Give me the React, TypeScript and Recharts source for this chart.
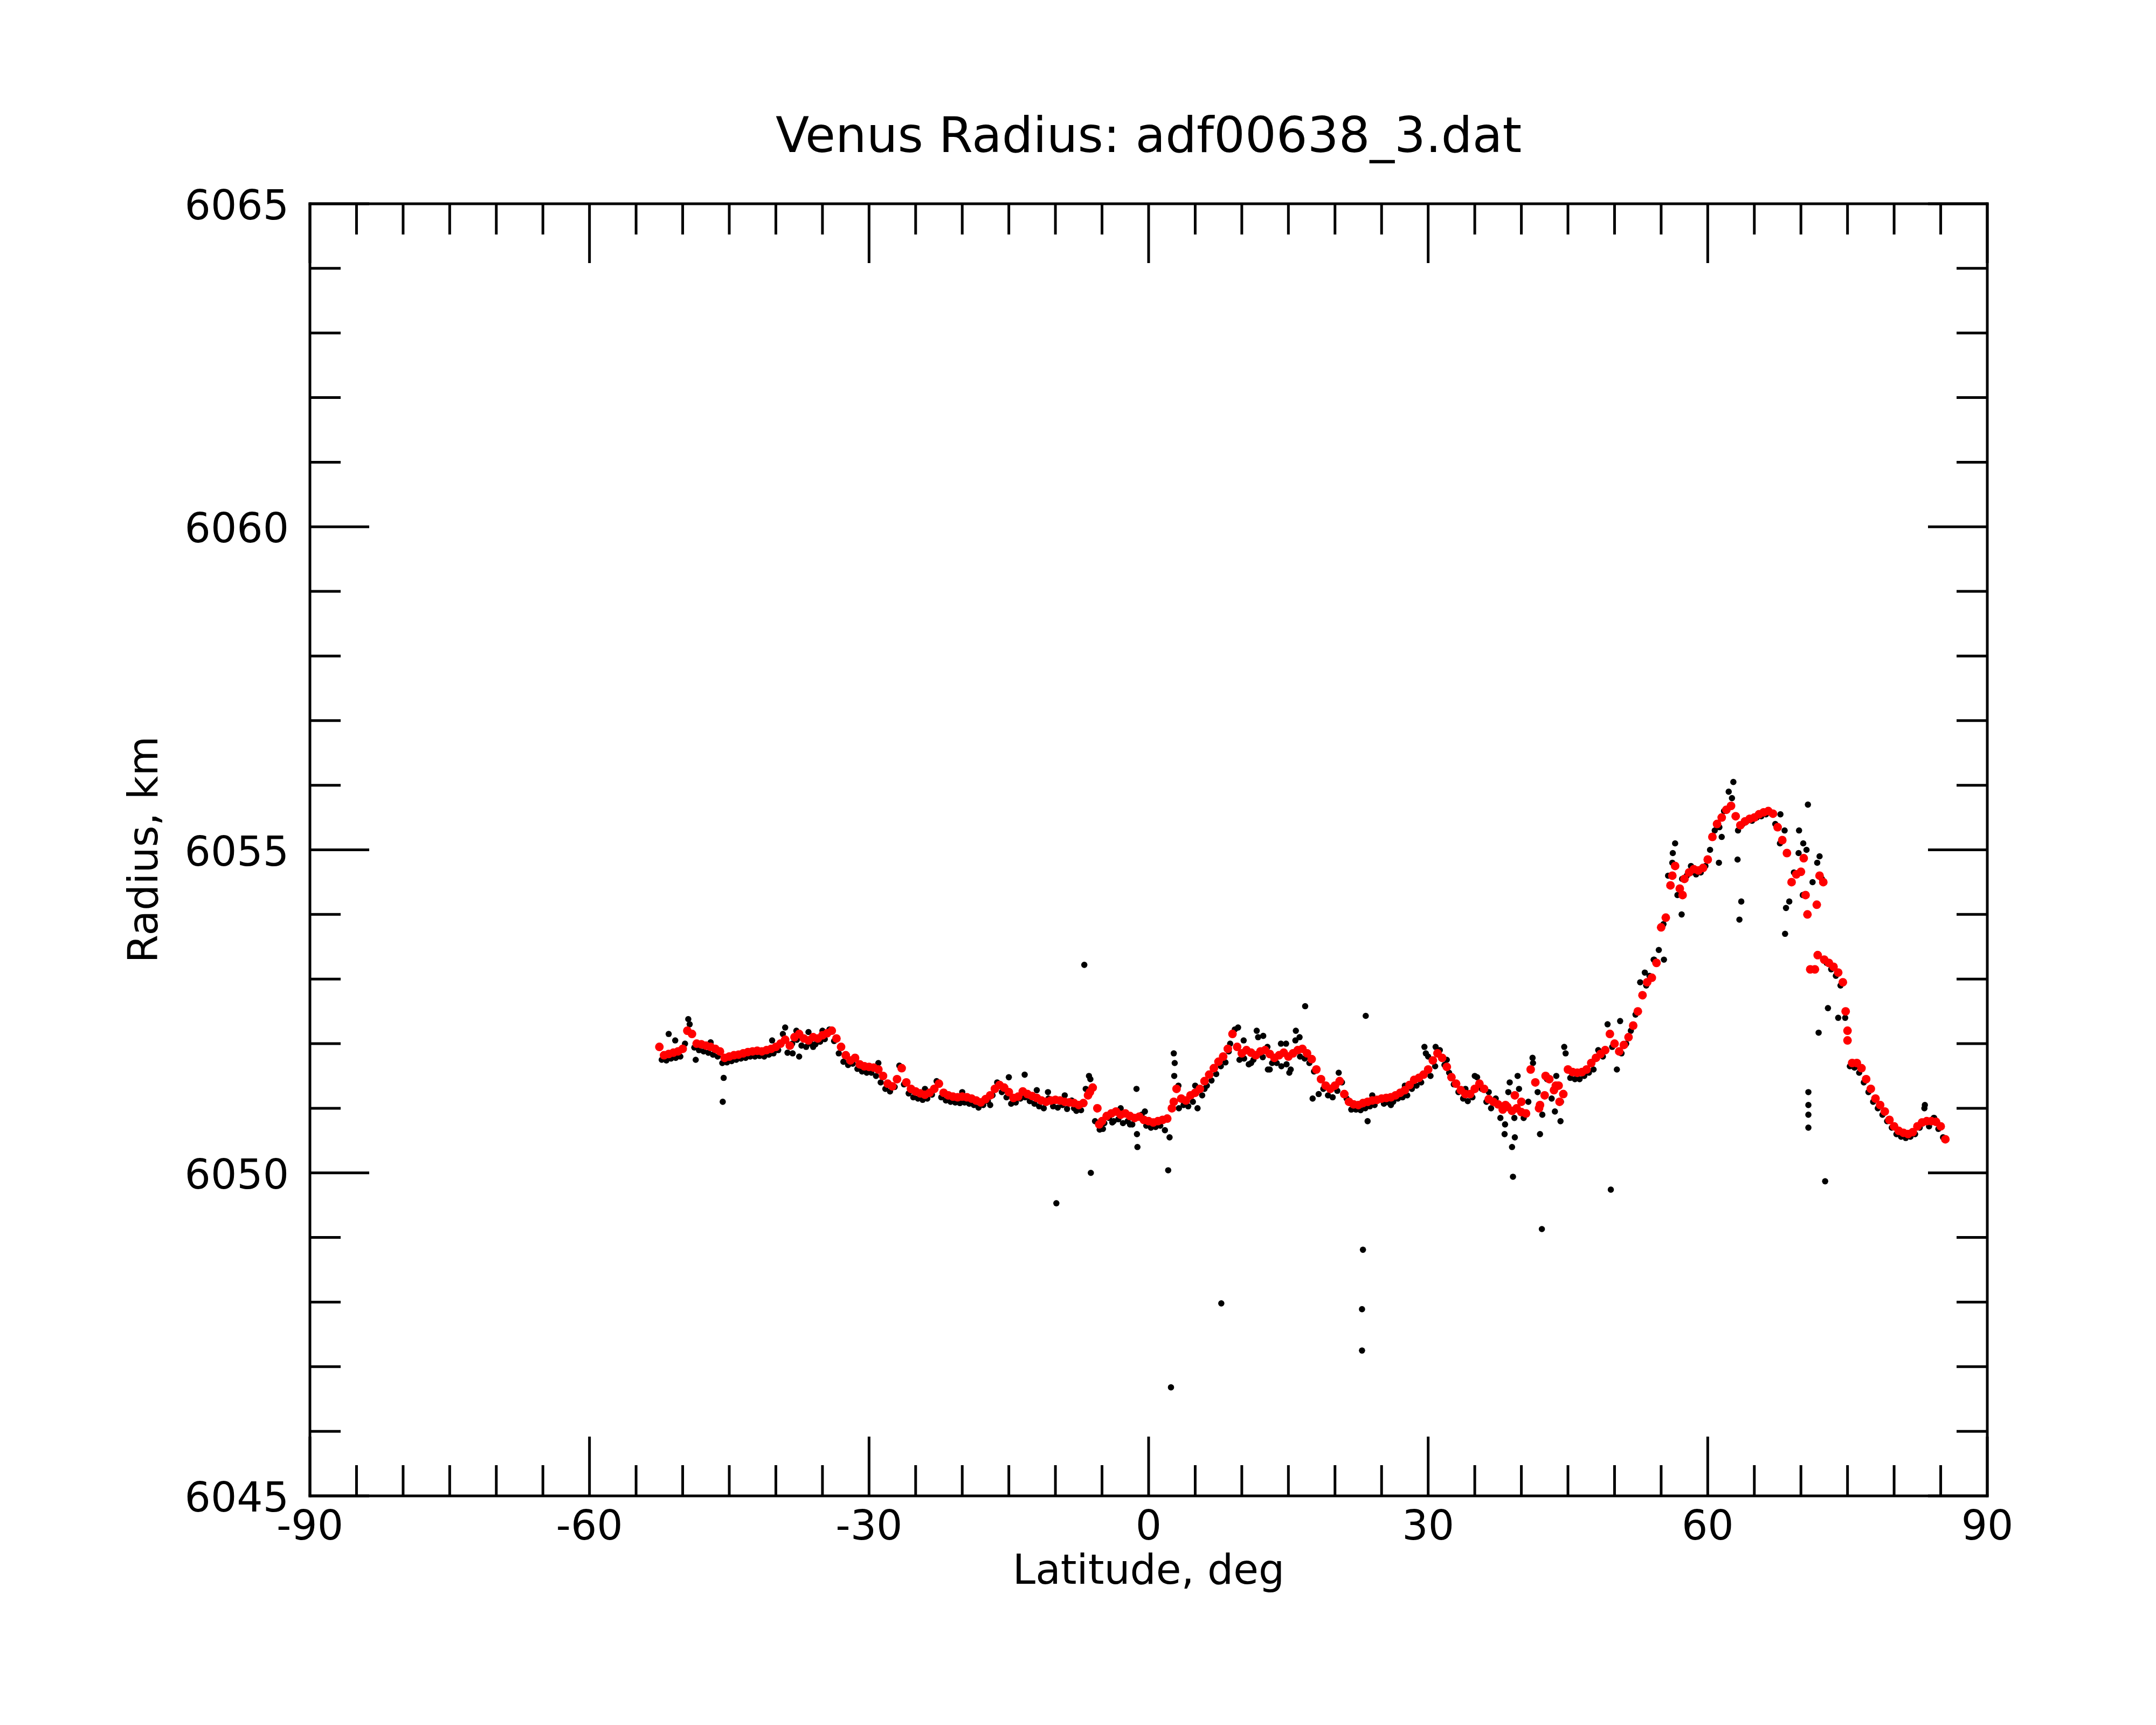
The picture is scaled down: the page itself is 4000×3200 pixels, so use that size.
import React from 'react';
import { ScatterChart, Scatter, XAxis, YAxis } from 'recharts';

const FONT = 'DejaVu Sans';

const latTicks = [-90, -85, -80, -75, -70, -65, -60, -55, -50, -45, -40, -35, -30, -25, -20, -15, -10, -5, 0, 5, 10, 15, 20, 25, 30, 35, 40, 45, 50, 55, 60, 65, 70, 75, 80, 85, 90];
const radiusTicks = [6045, 6046, 6047, 6048, 6049, 6050, 6051, 6052, 6053, 6054, 6055, 6056, 6057, 6058, 6059, 6060, 6061, 6062, 6063, 6064, 6065];

// smoothed profile (red), [latitude, radius]
const smoothed: [number, number][] = [
  [-52.5, 6051.95], [-52, 6051.82], [-51.5, 6051.84], [-51, 6051.86], [-50.5, 6051.88], [-50, 6051.92], [-49.5, 6052.2], [-49, 6052.15],
  [-48.5, 6052.0], [-48, 6051.99], [-47.5, 6051.97], [-47, 6051.95], [-46.5, 6051.92], [-46, 6051.88], [-45.5, 6051.78], [-45, 6051.8],
  [-44.5, 6051.82], [-44, 6051.83], [-43.5, 6051.85], [-43, 6051.87], [-42.5, 6051.88], [-42, 6051.89], [-41.5, 6051.88], [-41, 6051.9],
  [-40.5, 6051.92], [-40, 6051.95], [-39.5, 6052.0], [-39, 6052.06], [-38.5, 6051.97], [-38, 6052.1], [-37.5, 6052.15], [-37, 6052.08],
  [-36.5, 6052.05], [-36, 6052.1], [-35.5, 6052.08], [-35, 6052.13], [-34.5, 6052.16], [-34, 6052.2], [-33.5, 6052.08], [-33, 6051.95],
  [-32.5, 6051.82], [-32, 6051.74], [-31.5, 6051.78], [-31, 6051.68], [-30.5, 6051.65], [-30, 6051.64], [-29.5, 6051.63], [-29, 6051.6],
  [-28.5, 6051.5], [-28, 6051.38], [-27.5, 6051.34], [-27, 6051.45], [-26.5, 6051.62], [-26, 6051.4], [-25.5, 6051.3], [-25, 6051.26],
  [-24.5, 6051.23], [-24, 6051.21], [-23.5, 6051.24], [-23, 6051.3], [-22.5, 6051.38], [-22, 6051.24], [-21.5, 6051.2], [-21, 6051.18],
  [-20.5, 6051.17], [-20, 6051.18], [-19.5, 6051.17], [-19, 6051.15], [-18.5, 6051.12], [-18, 6051.09], [-17.5, 6051.14], [-17, 6051.2],
  [-16.5, 6051.3], [-16, 6051.36], [-15.5, 6051.32], [-15, 6051.25], [-14.5, 6051.16], [-14, 6051.18], [-13.5, 6051.26], [-13, 6051.22],
  [-12.5, 6051.19], [-12, 6051.16], [-11.5, 6051.12], [-11, 6051.1], [-10.5, 6051.12], [-10, 6051.13], [-9.5, 6051.12], [-9, 6051.1],
  [-8.5, 6051.09], [-8, 6051.08], [-7.5, 6051.05], [-7, 6051.08], [-6.5, 6051.2], [-6, 6051.32], [-5.5, 6051.0], [-5, 6050.8],
  [-4.5, 6050.88], [-4, 6050.92], [-3.5, 6050.95], [-3, 6050.9], [-2.5, 6050.92], [-2, 6050.88], [-1.5, 6050.85], [-1, 6050.87],
  [-0.5, 6050.82], [0, 6050.8], [0.5, 6050.78], [1, 6050.8], [1.5, 6050.82], [2, 6050.84], [2.5, 6051.0], [3, 6051.3],
  [3.5, 6051.15], [4, 6051.12], [4.5, 6051.2], [5, 6051.24], [5.5, 6051.3], [6, 6051.42], [6.5, 6051.52], [7, 6051.62],
  [7.5, 6051.72], [8, 6051.8], [8.5, 6051.92], [9, 6052.15], [9.5, 6051.95], [10, 6051.85], [10.5, 6051.9], [11, 6051.86],
  [11.5, 6051.82], [12, 6051.88], [12.5, 6051.9], [13, 6051.84], [13.5, 6051.78], [14, 6051.82], [14.5, 6051.86], [15, 6051.8],
  [15.5, 6051.85], [16, 6051.9], [16.5, 6051.92], [17, 6051.85], [17.5, 6051.76], [18, 6051.6], [18.5, 6051.45], [19, 6051.35],
  [19.5, 6051.3], [20, 6051.35], [20.5, 6051.42], [21, 6051.22], [21.5, 6051.1], [22, 6051.06], [22.5, 6051.05], [23, 6051.08],
  [23.5, 6051.1], [24, 6051.12], [24.5, 6051.13], [25, 6051.15], [25.5, 6051.16], [26, 6051.17], [26.5, 6051.2], [27, 6051.24],
  [27.5, 6051.28], [28, 6051.36], [28.5, 6051.44], [29, 6051.47], [29.5, 6051.52], [30, 6051.6], [30.5, 6051.74], [31, 6051.85],
  [31.5, 6051.78], [32, 6051.64], [32.5, 6051.48], [33, 6051.38], [33.5, 6051.28], [34, 6051.22], [34.5, 6051.22], [35, 6051.3],
  [35.5, 6051.38], [36, 6051.3], [36.5, 6051.14], [37, 6051.1], [37.5, 6051.06], [38, 6050.98], [38.5, 6051.02], [39, 6050.96],
  [39.5, 6051.0], [40, 6050.94], [40.5, 6050.92], [41, 6051.6], [41.5, 6051.4], [42, 6051.05], [42.5, 6051.2], [43, 6051.45],
  [43.5, 6051.28], [44, 6051.35], [44.5, 6051.22], [45, 6051.6], [45.5, 6051.56], [46, 6051.55], [46.5, 6051.56], [47, 6051.6],
  [47.5, 6051.7], [48, 6051.78], [48.5, 6051.84], [49, 6051.9], [49.5, 6052.15], [50, 6052.0], [50.5, 6051.88], [51, 6051.98],
  [51.5, 6052.1], [52, 6052.28], [52.5, 6052.5], [53, 6052.75], [53.5, 6052.95], [54, 6053.02], [54.5, 6053.25], [55, 6053.8],
  [55.5, 6053.95], [56, 6054.45], [56.5, 6054.75], [57, 6054.4], [57.5, 6054.55], [58, 6054.65], [58.5, 6054.7], [59, 6054.68],
  [59.5, 6054.72], [60, 6054.85], [60.5, 6055.2], [61, 6055.4], [61.5, 6055.5], [62, 6055.62], [62.5, 6055.68], [63, 6055.52],
  [63.5, 6055.38], [64, 6055.44], [64.5, 6055.48], [65, 6055.5], [65.5, 6055.55], [66, 6055.58], [66.5, 6055.6], [67, 6055.56],
  [67.5, 6055.35], [68, 6055.15], [68.5, 6054.95], [69, 6054.5], [69.5, 6054.62], [70, 6054.66], [70.5, 6054.3], [71, 6053.15],
  [71.5, 6053.15], [72, 6054.6], [72.5, 6053.3], [73, 6053.25], [73.5, 6053.19], [74, 6053.1], [74.5, 6052.95], [75, 6052.2],
  [75.5, 6051.7], [76, 6051.7], [76.5, 6051.62], [77, 6051.45], [77.5, 6051.3], [78, 6051.15], [78.5, 6051.05], [79, 6050.95],
  [79.5, 6050.82], [80, 6050.72], [80.5, 6050.65], [81, 6050.62], [81.5, 6050.6], [82, 6050.63], [82.5, 6050.72], [83, 6050.78],
  [83.5, 6050.8], [84, 6050.8], [84.5, 6050.79], [85, 6050.72], [85.5, 6050.52],
];

const smoothedExtra: [number, number][] = [
  [-6.3, 6051.25], [-5.3, 6050.75], [2.7, 6051.1], [38.3, 6051.05], [39.3, 6051.2], [40.0, 6051.1], [41.9, 6051.0], [42.6, 6051.5],
  [43.7, 6051.35], [44.1, 6051.1], [56.2, 6054.6], [57.3, 6054.3], [70.3, 6054.87], [70.7, 6054.0], [71.7, 6054.15], [71.8, 6053.37],
  [72.4, 6054.5], [74.8, 6052.5], [75.0, 6052.05],
];

// individual measurements (black), [latitude, radius]
const measured: [number, number][] = [
  [-52.25, 6051.75], [-51.75, 6051.74], [-51.25, 6051.77], [-50.75, 6051.78], [-50.25, 6051.8], [-49.75, 6052.0], [-49.25, 6052.3], [-48.75, 6051.94],
  [-48.25, 6051.9], [-47.75, 6051.88], [-47.25, 6051.86], [-46.75, 6051.83], [-46.25, 6051.8], [-45.75, 6051.7], [-45.25, 6051.71], [-44.75, 6051.73],
  [-44.25, 6051.75], [-43.75, 6051.77], [-43.25, 6051.78], [-42.75, 6051.8], [-42.25, 6051.8], [-41.75, 6051.81], [-41.25, 6051.8], [-40.75, 6051.83],
  [-40.25, 6051.85], [-39.75, 6051.9], [-39.25, 6052.15], [-38.75, 6051.86], [-38.25, 6052.0], [-37.75, 6052.06], [-37.25, 6051.97], [-36.75, 6051.95],
  [-36.25, 6052.0], [-35.75, 6051.99], [-35.25, 6052.03], [-34.75, 6052.07], [-34.25, 6052.22], [-33.75, 6052.04], [-33.25, 6051.85], [-32.75, 6051.72],
  [-32.25, 6051.67], [-31.75, 6051.69], [-31.25, 6051.61], [-30.75, 6051.57], [-30.25, 6051.55], [-29.75, 6051.55], [-29.25, 6051.5], [-28.75, 6051.4],
  [-28.25, 6051.3], [-27.75, 6051.26], [-27.25, 6051.33], [-26.75, 6051.66], [-26.25, 6051.37], [-25.75, 6051.23], [-25.25, 6051.17], [-24.75, 6051.15],
  [-24.25, 6051.13], [-23.75, 6051.15], [-23.25, 6051.21], [-22.75, 6051.42], [-22.25, 6051.17], [-21.75, 6051.12], [-21.25, 6051.1], [-20.75, 6051.09],
  [-20.25, 6051.08], [-19.75, 6051.09], [-19.25, 6051.07], [-18.75, 6051.05], [-18.25, 6051.01], [-17.75, 6051.05], [-17.25, 6051.11], [-16.75, 6051.2],
  [-16.25, 6051.4], [-15.75, 6051.25], [-15.25, 6051.17], [-14.75, 6051.07], [-14.25, 6051.09], [-13.75, 6051.15], [-13.25, 6051.17], [-12.75, 6051.11],
  [-12.25, 6051.07], [-11.75, 6051.03], [-11.25, 6051.0], [-10.75, 6051.15], [-10.25, 6051.03], [-9.75, 6051.01], [-9.25, 6051.05], [-8.75, 6050.99],
  [-8.25, 6051.12], [-7.75, 6050.96], [-7.25, 6050.97], [-6.75, 6051.3], [-6.25, 6051.45], [-5.75, 6050.8], [-5.25, 6050.67], [-4.75, 6050.77],
  [-4.25, 6050.85], [-3.75, 6050.8], [-3.25, 6050.83], [-2.75, 6050.77], [-2.25, 6050.8], [-1.75, 6050.75], [-1.25, 6050.6], [-0.75, 6050.9],
  [-0.25, 6050.73], [0.25, 6050.7], [0.75, 6050.71], [1.25, 6050.73], [1.75, 6050.66], [2.25, 6050.55], [2.75, 6051.5], [3.25, 6051.0],
  [3.75, 6051.05], [4.25, 6051.03], [4.75, 6051.1], [5.25, 6051.0], [5.75, 6051.2], [6.25, 6051.35], [6.75, 6051.43], [7.25, 6051.53],
  [7.75, 6051.65], [8.25, 6051.71], [8.75, 6052.0], [9.25, 6052.22], [9.75, 6051.75], [10.25, 6051.77], [10.75, 6051.68], [11.25, 6051.75],
  [11.75, 6052.1], [12.25, 6051.79], [12.75, 6051.95], [13.25, 6051.7], [13.75, 6051.7], [14.25, 6051.65], [14.75, 6052.0], [15.25, 6051.6],
  [15.75, 6052.05], [16.25, 6051.8], [16.75, 6051.77], [17.25, 6051.7], [17.75, 6051.57], [18.25, 6051.22], [18.75, 6051.3], [19.25, 6051.2],
  [19.75, 6051.17], [20.25, 6051.27], [20.75, 6051.4], [21.25, 6051.15], [21.75, 6050.98], [22.25, 6050.98], [22.75, 6050.97], [23.25, 6051.0],
  [23.75, 6051.03], [24.25, 6051.05], [24.75, 6051.13], [25.25, 6051.07], [25.75, 6051.09], [26.25, 6051.1], [26.75, 6051.15], [27.25, 6051.17],
  [27.75, 6051.2], [28.25, 6051.3], [28.75, 6051.35], [29.25, 6051.4], [29.75, 6051.85], [30.25, 6051.5], [30.75, 6051.65], [31.25, 6051.9],
  [31.75, 6051.67], [32.25, 6051.55], [32.75, 6051.37], [33.25, 6051.25], [33.75, 6051.15], [34.25, 6051.11], [34.75, 6051.17], [35.25, 6051.48],
  [35.75, 6051.3], [36.25, 6051.1], [36.75, 6051.0], [37.25, 6051.15], [37.75, 6050.85], [38.25, 6050.75], [38.75, 6051.4], [39.25, 6050.85],
  [39.75, 6051.3], [40.25, 6050.85], [40.75, 6051.1], [41.25, 6051.7], [41.75, 6051.25], [42.25, 6050.9], [42.75, 6051.45], [43.25, 6051.15],
  [43.75, 6051.5], [44.25, 6051.1], [44.75, 6051.85], [45.25, 6051.47], [45.75, 6051.45], [46.25, 6051.45], [46.75, 6051.5], [47.25, 6051.55],
  [47.75, 6051.6], [48.25, 6051.9], [48.75, 6051.8], [49.25, 6052.3], [49.75, 6051.95], [50.25, 6051.6], [50.75, 6051.85], [51.25, 6052.0],
  [51.75, 6052.2], [52.25, 6052.45], [52.75, 6052.95], [53.25, 6053.1], [53.75, 6053.05], [54.25, 6053.3], [54.75, 6053.45], [55.25, 6053.85],
  [55.75, 6054.6], [56.25, 6054.95], [56.75, 6054.3], [57.25, 6054.55], [57.75, 6054.6], [58.25, 6054.65], [58.75, 6054.62], [59.25, 6054.65],
  [59.75, 6054.75], [60.25, 6055.0], [60.75, 6055.3], [61.25, 6055.35], [61.75, 6055.6], [62.25, 6055.9], [62.75, 6056.05], [63.25, 6055.3],
  [63.75, 6055.4], [64.25, 6055.45], [64.75, 6055.45], [65.25, 6055.5], [65.75, 6055.52], [66.25, 6055.55], [66.75, 6055.58], [67.25, 6055.4],
  [67.75, 6055.1], [68.25, 6055.3], [68.75, 6054.2], [69.25, 6054.65], [69.75, 6054.95], [70.25, 6055.1], [70.75, 6055.7], [71.25, 6054.5],
  [71.75, 6054.8], [72.25, 6054.55], [72.75, 6053.25], [73.25, 6053.15], [73.75, 6053.05], [74.25, 6052.9], [74.75, 6052.4], [75.25, 6051.65],
  [75.75, 6051.63], [76.25, 6051.55], [76.75, 6051.4], [77.25, 6051.25], [77.75, 6051.1], [78.25, 6051.0], [78.75, 6050.9], [79.25, 6050.8],
  [79.75, 6050.7], [80.25, 6050.6], [80.75, 6050.56], [81.25, 6050.54], [81.75, 6050.56], [82.25, 6050.6], [82.75, 6050.7], [83.25, 6051.0],
  [83.75, 6050.72], [84.25, 6050.85], [84.75, 6050.68], [85.25, 6050.55],
];

// scattered and outlying measurements (black)
const measuredScatter: [number, number][] = [
  [-51.5, 6052.15], [-50.8, 6052.05], [-49.4, 6052.38], [-48.6, 6051.75], [-47.0, 6052.02], [-45.7, 6051.1], [-45.6, 6051.47], [-40.4, 6052.05],
  [-39.0, 6052.25], [-38.2, 6051.85], [-37.8, 6052.2], [-37.5, 6051.8], [-36.5, 6052.18], [-36.0, 6051.95], [-35.0, 6052.2], [-29.0, 6051.7],
  [-24.0, 6051.3], [-20.0, 6051.25], [-17.0, 6051.05], [-15.0, 6051.48], [-13.3, 6051.52], [-12.0, 6051.28], [-10.8, 6051.25], [-9.9, 6049.53],
  [-9.0, 6051.2], [-8.0, 6051.0], [-6.9, 6053.22], [-6.2, 6050.0], [-6.4, 6051.5], [-4.9, 6050.68], [-3.9, 6050.78], [-3.0, 6051.0],
  [-2.0, 6050.75], [-1.2, 6050.4], [-1.3, 6051.3], [-0.4, 6050.95], [2.1, 6050.04], [2.4, 6046.68], [2.7, 6051.85], [2.8, 6051.7],
  [3.2, 6051.35], [5.0, 6051.35], [6.0, 6051.3], [7.8, 6047.98], [8.6, 6051.88], [9.6, 6052.25], [10.2, 6052.05], [11.0, 6051.7],
  [11.6, 6052.2], [12.3, 6052.12], [12.8, 6051.6], [13.0, 6051.6], [14.2, 6052.0], [14.8, 6051.68], [15.1, 6051.55], [15.8, 6052.2],
  [16.2, 6052.1], [16.8, 6052.58], [17.6, 6051.15], [20.4, 6051.55], [23.3, 6052.43], [23.0, 6048.81], [22.9, 6047.89], [22.9, 6047.25],
  [23.5, 6050.8], [24.0, 6051.2], [26.0, 6051.05], [27.5, 6051.35], [29.6, 6051.95], [30.0, 6051.8], [30.8, 6051.95], [32.0, 6051.75],
  [34.0, 6051.3], [35.0, 6051.5], [36.5, 6051.25], [38.2, 6050.6], [38.6, 6051.25], [39.0, 6050.4], [39.1, 6049.94], [39.3, 6050.55],
  [39.6, 6051.5], [41.2, 6051.78], [42.0, 6050.6], [42.2, 6049.13], [43.6, 6050.95], [44.2, 6050.8], [44.6, 6051.95], [49.6, 6049.74],
  [50.6, 6052.35], [53.4, 6052.9], [54.2, 6053.3], [55.3, 6053.3], [56.5, 6055.1], [56.2, 6054.8], [57.2, 6054.0], [58.2, 6054.75],
  [61.2, 6054.8], [61.5, 6055.2], [62.6, 6055.8], [63.2, 6054.85], [63.4, 6053.92], [63.6, 6054.2], [67.8, 6055.55], [68.3, 6053.7],
  [68.4, 6054.1], [69.8, 6055.3], [70.2, 6054.3], [70.6, 6055.0], [70.8, 6051.25], [70.8, 6051.05], [70.8, 6050.9], [70.8, 6050.7],
  [71.9, 6052.17], [72.0, 6054.9], [72.6, 6049.87], [72.9, 6052.55], [74.0, 6052.4], [83.3, 6051.05], [84.3, 6050.85],
];

const toPoints = (rows: [number, number][]) => rows.map(([lat, radius]) => ({ lat, radius }));

const blackPoints = toPoints([...measured, ...measuredScatter]);
const redPoints = toPoints([...smoothed, ...smoothedExtra]);

const AXIS_STROKE = 5;
const MAJOR = 110;
const MINOR = 57;
const LABEL_SIZE = 76;

const BottomTick = (props: any) => {
  const { x, y, payload } = props;
  const major = payload.value % 30 === 0;
  return (
    <g>
      <line x1={x} y1={y} x2={x} y2={y - (major ? MAJOR : MINOR)} stroke="#000" strokeWidth={AXIS_STROKE} />
      {major && (
        <text x={x} y={y + 81} textAnchor="middle" fontSize={LABEL_SIZE} fontFamily={FONT} fill="#000">
          {payload.value}
        </text>
      )}
    </g>
  );
};

const TopTick = (props: any) => {
  const { x, y, payload } = props;
  const major = payload.value % 30 === 0;
  return <line x1={x} y1={y} x2={x} y2={y + (major ? MAJOR : MINOR)} stroke="#000" strokeWidth={AXIS_STROKE} />;
};

const LeftTick = (props: any) => {
  const { x, y, payload } = props;
  const major = payload.value % 5 === 0;
  return (
    <g>
      <line x1={x} y1={y} x2={x + (major ? MAJOR : MINOR)} y2={y} stroke="#000" strokeWidth={AXIS_STROKE} />
      {major && (
        <text x={x - 39} y={y + 29} textAnchor="end" fontSize={LABEL_SIZE} fontFamily={FONT} fill="#000">
          {payload.value}
        </text>
      )}
    </g>
  );
};

const RightTick = (props: any) => {
  const { x, y, payload } = props;
  const major = payload.value % 5 === 0;
  return <line x1={x} y1={y} x2={x - (major ? MAJOR : MINOR)} y2={y} stroke="#000" strokeWidth={AXIS_STROKE} />;
};

const dot = (r: number, fill: string) => (p: any) => <circle cx={p.cx} cy={p.cy} r={r} fill={fill} />;

const axisLine = { stroke: '#000', strokeWidth: AXIS_STROKE, strokeLinecap: 'square' as const };

export default function App() {
  return (
    <div style={{ position: 'absolute', left: 0, top: 0, width: 4000, height: 3200, background: '#fff' }}>
      <ScatterChart width={4000} height={3200} margin={{ top: 368, right: 303, bottom: 325, left: 475 }}>
        <XAxis
          xAxisId="bottom"
          dataKey="lat"
          type="number"
          domain={[-90, 90]}
          ticks={latTicks}
          interval={0}
          height={100}
          tickSize={0}
          tickMargin={0}
          tickLine={false}
          axisLine={axisLine}
          tick={<BottomTick />}
          allowDataOverflow
        />
        <XAxis
          xAxisId="top"
          orientation="top"
          dataKey="lat"
          type="number"
          domain={[-90, 90]}
          ticks={latTicks}
          interval={0}
          height={10}
          tickSize={0}
          tickMargin={0}
          tickLine={false}
          axisLine={axisLine}
          tick={<TopTick />}
          allowDataOverflow
        />
        <YAxis
          yAxisId="left"
          dataKey="radius"
          type="number"
          domain={[6045, 6065]}
          ticks={radiusTicks}
          interval={0}
          width={100}
          tickSize={0}
          tickMargin={0}
          tickLine={false}
          axisLine={axisLine}
          tick={<LeftTick />}
          allowDataOverflow
        />
        <YAxis
          yAxisId="right"
          orientation="right"
          dataKey="radius"
          type="number"
          domain={[6045, 6065]}
          ticks={radiusTicks}
          interval={0}
          width={10}
          tickSize={0}
          tickMargin={0}
          tickLine={false}
          axisLine={axisLine}
          tick={<RightTick />}
          allowDataOverflow
        />
        <Scatter
          xAxisId="bottom"
          yAxisId="left"
          data={blackPoints}
          shape={dot(5.8, '#000')}
          isAnimationActive={false}
        />
        <Scatter
          xAxisId="bottom"
          yAxisId="left"
          data={redPoints}
          shape={dot(8, '#ff0000')}
          isAnimationActive={false}
        />
      </ScatterChart>
      <svg
        width={4000}
        height={3200}
        style={{ position: 'absolute', left: 0, top: 0, pointerEvents: 'none' }}
        fontFamily={FONT}
      >
        <text x={2131} y={282} textAnchor="middle" fontSize={91} fill="#000">
          Venus Radius: adf00638_3.dat
        </text>
        <text x={2131} y={2938} textAnchor="middle" fontSize={LABEL_SIZE} fill="#000">
          Latitude, deg
        </text>
        <text transform="translate(292,1576) rotate(-90)" textAnchor="middle" fontSize={LABEL_SIZE} fill="#000">
          Radius, km
        </text>
      </svg>
    </div>
  );
}
